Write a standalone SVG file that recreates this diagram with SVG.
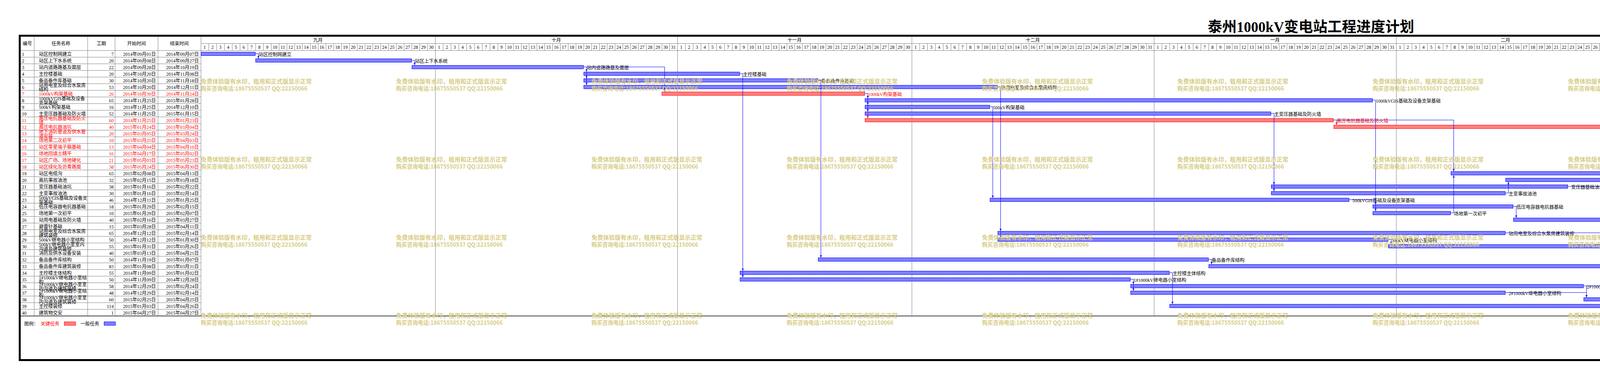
<svg xmlns="http://www.w3.org/2000/svg" xmlns:xlink="http://www.w3.org/1999/xlink" width="6798" height="971" viewBox="0 0 6798 971">
<style>
text{font-family:'Liberation Serif','Noto Sans CJK SC',serif;font-size:12px;fill:#000}
.r{fill:#f00}
.m{text-anchor:middle}
.e{text-anchor:end}
.ttl{font-size:37px;font-weight:bold;text-anchor:middle}
.tbk{font-family:'Liberation Sans','Noto Sans CJK SC',sans-serif;text-anchor:middle}
.wmt{font-family:'Noto Sans CJK SC',sans-serif;font-size:15px;font-weight:bold;fill:#d6cc86}
.gl{stroke:#808080;stroke-width:1;fill:none}
.bk{stroke:#000;stroke-width:1;fill:none}
.dot{stroke:#000;stroke-width:1;stroke-dasharray:1 1;fill:none}
.bb{fill:url(#hb);stroke:#00f;stroke-width:1}
.br{fill:url(#hr);stroke:#f00;stroke-width:1}
.cb{fill:none;stroke:#00f;stroke-width:1;marker-end:url(#ab)}
.cr{fill:none;stroke:#f00;stroke-width:1;marker-end:url(#ar)}
</style>
<defs>
<pattern id="hb" width="2" height="2" patternUnits="userSpaceOnUse"><rect width="2" height="2" fill="#fff"/><rect width="1" height="1" fill="#00f"/><rect x="1" y="1" width="1" height="1" fill="#00f"/></pattern>
<pattern id="hr" width="2" height="2" patternUnits="userSpaceOnUse"><rect width="2" height="2" fill="#fff"/><rect width="1" height="1" fill="#f00"/><rect x="1" y="1" width="1" height="1" fill="#f00"/></pattern>
<pattern id="dg" x="514" y="0" width="20" height="40" patternUnits="userSpaceOnUse"><rect x="0" y="0" width="1" height="40" fill="#808080"/></pattern>
<marker id="ab" viewBox="0 0 6 6" refX="6" refY="3" markerWidth="6" markerHeight="6" markerUnits="userSpaceOnUse" orient="auto"><path d="M0,0.5 L6,3 L0,5.5 z" fill="#00f"/></marker>
<marker id="ar" viewBox="0 0 6 6" refX="6" refY="3" markerWidth="6" markerHeight="6" markerUnits="userSpaceOnUse" orient="auto"><path d="M0,0.5 L6,3 L0,5.5 z" fill="#f00"/></marker>
<g id="wm"><text class="wmt" x="0" y="0" textLength="284" lengthAdjust="spacingAndGlyphs" font-family="Noto Sans CJK SC, sans-serif" font-size="15" font-weight="bold" fill="#d6cc86">免费体验版有水印，租用和正式版显示正常</text><text class="wmt" x="0" y="17.5" textLength="273" lengthAdjust="spacingAndGlyphs" font-family="Noto Sans CJK SC, sans-serif" font-size="15" font-weight="bold" fill="#d6cc86">购买咨询电话:18675550537 QQ:22150066</text></g>
</defs>
<rect width="6798" height="971" fill="#fff"/>
<text class="ttl" x="3356" y="82">泰州1000kV变电站工程进度计划</text>

<g id="grid">
<path class="gl" d="M87.5 94V809.5M224.5 94V809.5M294.5 94V809.5M404.5 94V809.5M514.5 94V809.5"/>
<path class="gl" d="M53 129.5H6694M53 146.5H514M53 163.5H514M53 180.5H514M53 197.5H514M53 214.5H514M53 231.5H514M53 248.5H514M53 265.5H514M53 282.5H514M53 299.5H514M53 316.5H514M53 333.5H514M53 350.5H514M53 367.5H514M53 384.5H514M53 401.5H514M53 418.5H514M53 435.5H514M53 452.5H514M53 469.5H514M53 486.5H514M53 503.5H514M53 520.5H514M53 537.5H514M53 554.5H514M53 571.5H514M53 588.5H514M53 605.5H514M53 622.5H514M53 639.5H514M53 656.5H514M53 673.5H514M53 690.5H514M53 707.5H514M53 724.5H514M53 741.5H514M53 758.5H514M53 775.5H514M53 792.5H514"/>
<path class="gl" d="M514 111.5H6694M1114.5 94V111.5M1734.5 94V111.5M2334.5 94V111.5M2954.5 94V111.5M3574.5 94V111.5M4134.5 94V111.5M4754.5 94V111.5M5354.5 94V111.5M5974.5 94V111.5M6574.5 94V111.5"/>
<rect x="514" y="111.5" width="6180" height="18" fill="url(#dg)"/>
<path class="dot" d="M1114.5 129.5V809.5M1734.5 129.5V809.5M2334.5 129.5V809.5M2954.5 129.5V809.5M3574.5 129.5V809.5M4134.5 129.5V809.5M4754.5 129.5V809.5M5354.5 129.5V809.5M5974.5 129.5V809.5M6574.5 129.5V809.5"/>
<path d="M53 809.5H6694" stroke="#000" stroke-width="1.5"/>
</g>

<g id="header">
<text class="m" x="70" y="116">编号</text>
<text class="m" x="156" y="116">任务名称</text>
<text class="m" x="259.5" y="116">工期</text>
<text class="m" x="349.5" y="116">开始时间</text>
<text class="m" x="459" y="116">结束时间</text>
<text class="m" x="814" y="107">九月</text>
<text class="m" x="1424" y="107">十月</text>
<text class="m" x="2034" y="107">十一月</text>
<text class="m" x="2644" y="107">十二月</text>
<text class="m" x="3264" y="107">一月</text>
<text class="m" x="3854" y="107">二月</text>
<text class="m" x="4444" y="107">三月</text>
<text class="m" x="5054" y="107">四月</text>
<text class="m" x="5664" y="107">五月</text>
<text class="m" x="6274" y="107">六月</text>
<text class="m" x="6634" y="107">七月</text>
<text class="m" y="124.5"><tspan x="524">1</tspan><tspan x="544">2</tspan><tspan x="564">3</tspan><tspan x="584">4</tspan><tspan x="604">5</tspan><tspan x="624">6</tspan><tspan x="644">7</tspan><tspan x="664">8</tspan><tspan x="684">9</tspan><tspan x="704">10</tspan><tspan x="724">11</tspan><tspan x="744">12</tspan><tspan x="764">13</tspan><tspan x="784">14</tspan><tspan x="804">15</tspan><tspan x="824">16</tspan><tspan x="844">17</tspan><tspan x="864">18</tspan><tspan x="884">19</tspan><tspan x="904">20</tspan><tspan x="924">21</tspan><tspan x="944">22</tspan><tspan x="964">23</tspan><tspan x="984">24</tspan><tspan x="1004">25</tspan><tspan x="1024">26</tspan><tspan x="1044">27</tspan><tspan x="1064">28</tspan><tspan x="1084">29</tspan><tspan x="1104">30</tspan></text>
<text class="m" y="124.5"><tspan x="1124">1</tspan><tspan x="1144">2</tspan><tspan x="1164">3</tspan><tspan x="1184">4</tspan><tspan x="1204">5</tspan><tspan x="1224">6</tspan><tspan x="1244">7</tspan><tspan x="1264">8</tspan><tspan x="1284">9</tspan><tspan x="1304">10</tspan><tspan x="1324">11</tspan><tspan x="1344">12</tspan><tspan x="1364">13</tspan><tspan x="1384">14</tspan><tspan x="1404">15</tspan><tspan x="1424">16</tspan><tspan x="1444">17</tspan><tspan x="1464">18</tspan><tspan x="1484">19</tspan><tspan x="1504">20</tspan><tspan x="1524">21</tspan><tspan x="1544">22</tspan><tspan x="1564">23</tspan><tspan x="1584">24</tspan><tspan x="1604">25</tspan><tspan x="1624">26</tspan><tspan x="1644">27</tspan><tspan x="1664">28</tspan><tspan x="1684">29</tspan><tspan x="1704">30</tspan><tspan x="1724">31</tspan></text>
<text class="m" y="124.5"><tspan x="1744">1</tspan><tspan x="1764">2</tspan><tspan x="1784">3</tspan><tspan x="1804">4</tspan><tspan x="1824">5</tspan><tspan x="1844">6</tspan><tspan x="1864">7</tspan><tspan x="1884">8</tspan><tspan x="1904">9</tspan><tspan x="1924">10</tspan><tspan x="1944">11</tspan><tspan x="1964">12</tspan><tspan x="1984">13</tspan><tspan x="2004">14</tspan><tspan x="2024">15</tspan><tspan x="2044">16</tspan><tspan x="2064">17</tspan><tspan x="2084">18</tspan><tspan x="2104">19</tspan><tspan x="2124">20</tspan><tspan x="2144">21</tspan><tspan x="2164">22</tspan><tspan x="2184">23</tspan><tspan x="2204">24</tspan><tspan x="2224">25</tspan><tspan x="2244">26</tspan><tspan x="2264">27</tspan><tspan x="2284">28</tspan><tspan x="2304">29</tspan><tspan x="2324">30</tspan></text>
<text class="m" y="124.5"><tspan x="2344">1</tspan><tspan x="2364">2</tspan><tspan x="2384">3</tspan><tspan x="2404">4</tspan><tspan x="2424">5</tspan><tspan x="2444">6</tspan><tspan x="2464">7</tspan><tspan x="2484">8</tspan><tspan x="2504">9</tspan><tspan x="2524">10</tspan><tspan x="2544">11</tspan><tspan x="2564">12</tspan><tspan x="2584">13</tspan><tspan x="2604">14</tspan><tspan x="2624">15</tspan><tspan x="2644">16</tspan><tspan x="2664">17</tspan><tspan x="2684">18</tspan><tspan x="2704">19</tspan><tspan x="2724">20</tspan><tspan x="2744">21</tspan><tspan x="2764">22</tspan><tspan x="2784">23</tspan><tspan x="2804">24</tspan><tspan x="2824">25</tspan><tspan x="2844">26</tspan><tspan x="2864">27</tspan><tspan x="2884">28</tspan><tspan x="2904">29</tspan><tspan x="2924">30</tspan><tspan x="2944">31</tspan></text>
<text class="m" y="124.5"><tspan x="2964">1</tspan><tspan x="2984">2</tspan><tspan x="3004">3</tspan><tspan x="3024">4</tspan><tspan x="3044">5</tspan><tspan x="3064">6</tspan><tspan x="3084">7</tspan><tspan x="3104">8</tspan><tspan x="3124">9</tspan><tspan x="3144">10</tspan><tspan x="3164">11</tspan><tspan x="3184">12</tspan><tspan x="3204">13</tspan><tspan x="3224">14</tspan><tspan x="3244">15</tspan><tspan x="3264">16</tspan><tspan x="3284">17</tspan><tspan x="3304">18</tspan><tspan x="3324">19</tspan><tspan x="3344">20</tspan><tspan x="3364">21</tspan><tspan x="3384">22</tspan><tspan x="3404">23</tspan><tspan x="3424">24</tspan><tspan x="3444">25</tspan><tspan x="3464">26</tspan><tspan x="3484">27</tspan><tspan x="3504">28</tspan><tspan x="3524">29</tspan><tspan x="3544">30</tspan><tspan x="3564">31</tspan></text>
<text class="m" y="124.5"><tspan x="3584">1</tspan><tspan x="3604">2</tspan><tspan x="3624">3</tspan><tspan x="3644">4</tspan><tspan x="3664">5</tspan><tspan x="3684">6</tspan><tspan x="3704">7</tspan><tspan x="3724">8</tspan><tspan x="3744">9</tspan><tspan x="3764">10</tspan><tspan x="3784">11</tspan><tspan x="3804">12</tspan><tspan x="3824">13</tspan><tspan x="3844">14</tspan><tspan x="3864">15</tspan><tspan x="3884">16</tspan><tspan x="3904">17</tspan><tspan x="3924">18</tspan><tspan x="3944">19</tspan><tspan x="3964">20</tspan><tspan x="3984">21</tspan><tspan x="4004">22</tspan><tspan x="4024">23</tspan><tspan x="4044">24</tspan><tspan x="4064">25</tspan><tspan x="4084">26</tspan><tspan x="4104">27</tspan><tspan x="4124">28</tspan></text>
<text class="m" y="124.5"><tspan x="4144">1</tspan><tspan x="4164">2</tspan><tspan x="4184">3</tspan><tspan x="4204">4</tspan><tspan x="4224">5</tspan><tspan x="4244">6</tspan><tspan x="4264">7</tspan><tspan x="4284">8</tspan><tspan x="4304">9</tspan><tspan x="4324">10</tspan><tspan x="4344">11</tspan><tspan x="4364">12</tspan><tspan x="4384">13</tspan><tspan x="4404">14</tspan><tspan x="4424">15</tspan><tspan x="4444">16</tspan><tspan x="4464">17</tspan><tspan x="4484">18</tspan><tspan x="4504">19</tspan><tspan x="4524">20</tspan><tspan x="4544">21</tspan><tspan x="4564">22</tspan><tspan x="4584">23</tspan><tspan x="4604">24</tspan><tspan x="4624">25</tspan><tspan x="4644">26</tspan><tspan x="4664">27</tspan><tspan x="4684">28</tspan><tspan x="4704">29</tspan><tspan x="4724">30</tspan><tspan x="4744">31</tspan></text>
<text class="m" y="124.5"><tspan x="4764">1</tspan><tspan x="4784">2</tspan><tspan x="4804">3</tspan><tspan x="4824">4</tspan><tspan x="4844">5</tspan><tspan x="4864">6</tspan><tspan x="4884">7</tspan><tspan x="4904">8</tspan><tspan x="4924">9</tspan><tspan x="4944">10</tspan><tspan x="4964">11</tspan><tspan x="4984">12</tspan><tspan x="5004">13</tspan><tspan x="5024">14</tspan><tspan x="5044">15</tspan><tspan x="5064">16</tspan><tspan x="5084">17</tspan><tspan x="5104">18</tspan><tspan x="5124">19</tspan><tspan x="5144">20</tspan><tspan x="5164">21</tspan><tspan x="5184">22</tspan><tspan x="5204">23</tspan><tspan x="5224">24</tspan><tspan x="5244">25</tspan><tspan x="5264">26</tspan><tspan x="5284">27</tspan><tspan x="5304">28</tspan><tspan x="5324">29</tspan><tspan x="5344">30</tspan></text>
<text class="m" y="124.5"><tspan x="5364">1</tspan><tspan x="5384">2</tspan><tspan x="5404">3</tspan><tspan x="5424">4</tspan><tspan x="5444">5</tspan><tspan x="5464">6</tspan><tspan x="5484">7</tspan><tspan x="5504">8</tspan><tspan x="5524">9</tspan><tspan x="5544">10</tspan><tspan x="5564">11</tspan><tspan x="5584">12</tspan><tspan x="5604">13</tspan><tspan x="5624">14</tspan><tspan x="5644">15</tspan><tspan x="5664">16</tspan><tspan x="5684">17</tspan><tspan x="5704">18</tspan><tspan x="5724">19</tspan><tspan x="5744">20</tspan><tspan x="5764">21</tspan><tspan x="5784">22</tspan><tspan x="5804">23</tspan><tspan x="5824">24</tspan><tspan x="5844">25</tspan><tspan x="5864">26</tspan><tspan x="5884">27</tspan><tspan x="5904">28</tspan><tspan x="5924">29</tspan><tspan x="5944">30</tspan><tspan x="5964">31</tspan></text>
<text class="m" y="124.5"><tspan x="5984">1</tspan><tspan x="6004">2</tspan><tspan x="6024">3</tspan><tspan x="6044">4</tspan><tspan x="6064">5</tspan><tspan x="6084">6</tspan><tspan x="6104">7</tspan><tspan x="6124">8</tspan><tspan x="6144">9</tspan><tspan x="6164">10</tspan><tspan x="6184">11</tspan><tspan x="6204">12</tspan><tspan x="6224">13</tspan><tspan x="6244">14</tspan><tspan x="6264">15</tspan><tspan x="6284">16</tspan><tspan x="6304">17</tspan><tspan x="6324">18</tspan><tspan x="6344">19</tspan><tspan x="6364">20</tspan><tspan x="6384">21</tspan><tspan x="6404">22</tspan><tspan x="6424">23</tspan><tspan x="6444">24</tspan><tspan x="6464">25</tspan><tspan x="6484">26</tspan><tspan x="6504">27</tspan><tspan x="6524">28</tspan><tspan x="6544">29</tspan><tspan x="6564">30</tspan></text>
<text class="m" y="124.5"><tspan x="6584">1</tspan><tspan x="6604">2</tspan><tspan x="6624">3</tspan><tspan x="6644">4</tspan><tspan x="6664">5</tspan><tspan x="6684">6</tspan></text>
</g>

<g id="task-1"><text x="56" y="142.5">1</text><text x="99.5" y="142.5">站区控制网建立</text><text class="e" x="291" y="142.5">7</text><text class="e" x="399" y="142.5">2014年09月01日</text><text class="e" x="509" y="142.5">2014年09月07日</text><rect class="bb" x="514.5" y="133.5" width="139" height="9"/><text x="662" y="143.5">站区控制网建立</text></g>
<g id="task-2"><text x="56" y="159.5">2</text><text x="99.5" y="159.5">站区上下水系统</text><text class="e" x="291" y="159.5">20</text><text class="e" x="399" y="159.5">2014年09月08日</text><text class="e" x="509" y="159.5">2014年09月27日</text><rect class="bb" x="654.5" y="150.5" width="399" height="9"/><text x="1062" y="160.5">站区上下水系统</text></g>
<g id="task-3"><text x="56" y="176.5">3</text><text x="99.5" y="176.5">站内道路路基及面层</text><text class="e" x="291" y="176.5">22</text><text class="e" x="399" y="176.5">2014年09月28日</text><text class="e" x="509" y="176.5">2014年10月19日</text><rect class="bb" x="1054.5" y="167.5" width="439" height="9"/><text x="1502" y="177.5">站内道路路基及面层</text></g>
<g id="task-4"><text x="56" y="193.5">4</text><text x="99.5" y="193.5">主控楼基础</text><text class="e" x="291" y="193.5">20</text><text class="e" x="399" y="193.5">2014年10月20日</text><text class="e" x="509" y="193.5">2014年11月08日</text><rect class="bb" x="1494.5" y="184.5" width="399" height="9"/><text x="1902" y="194.5">主控楼基础</text></g>
<g id="task-5"><text x="56" y="210.5">5</text><text x="99.5" y="210.5">备品备件库基础</text><text class="e" x="291" y="210.5">30</text><text class="e" x="399" y="210.5">2014年10月20日</text><text class="e" x="509" y="210.5">2014年11月18日</text><rect class="bb" x="1494.5" y="201.5" width="599" height="9"/><text x="2102" y="211.5">备品备件库基础</text></g>
<g id="task-6"><text x="56" y="227.5">6</text><text x="99.5" y="222.5">站用电室及综合水泵房</text><text x="99.5" y="234.1">结构</text><text class="e" x="291" y="227.5">53</text><text class="e" x="399" y="227.5">2014年10月20日</text><text class="e" x="509" y="227.5">2014年12月11日</text><rect class="bb" x="1494.5" y="218.5" width="1059" height="9"/><text x="2562" y="228.5">站用电室及综合水泵房结构</text></g>
<g id="task-7"><text class="r" x="56" y="244.5">7</text><text class="r" x="99.5" y="244.5">1000kV构架基础</text><text class="e r" x="291" y="244.5">26</text><text class="e r" x="399" y="244.5">2014年10月30日</text><text class="e r" x="509" y="244.5">2014年11月24日</text><rect class="br" x="1694.5" y="235.5" width="519" height="9"/><text class="r" x="2222" y="245.5">1000kV构架基础</text></g>
<g id="task-8"><text x="56" y="261.5">8</text><text x="99.5" y="256.5">1000kVGIS基础及设备</text><text x="99.5" y="268.1">支架基础</text><text class="e" x="291" y="261.5">65</text><text class="e" x="399" y="261.5">2014年11月25日</text><text class="e" x="509" y="261.5">2015年01月28日</text><rect class="bb" x="2214.5" y="252.5" width="1299" height="9"/><text x="3522" y="262.5">1000kVGIS基础及设备支架基础</text></g>
<g id="task-9"><text x="56" y="278.5">9</text><text x="99.5" y="278.5">500kV构架基础</text><text class="e" x="291" y="278.5">16</text><text class="e" x="399" y="278.5">2014年11月25日</text><text class="e" x="509" y="278.5">2014年12月10日</text><rect class="bb" x="2214.5" y="269.5" width="319" height="9"/><text x="2542" y="279.5">500kV构架基础</text></g>
<g id="task-10"><text x="56" y="295.5">10</text><text x="99.5" y="295.5">主变压器基础及防火墙</text><text class="e" x="291" y="295.5">52</text><text class="e" x="399" y="295.5">2014年11月25日</text><text class="e" x="509" y="295.5">2015年01月15日</text><rect class="bb" x="2214.5" y="286.5" width="1039" height="9"/><text x="3262" y="296.5">主变压器基础及防火墙</text></g>
<g id="task-11"><text class="r" x="56" y="312.5">11</text><text class="r" x="99.5" y="307.5">高压电抗器基础及防火</text><text class="r" x="99.5" y="319.1">墙</text><text class="e r" x="291" y="312.5">60</text><text class="e r" x="399" y="312.5">2014年11月25日</text><text class="e r" x="509" y="312.5">2015年01月23日</text><rect class="br" x="2214.5" y="303.5" width="1199" height="9"/><text class="r" x="3422" y="313.5">高压电抗器基础及防火墙</text></g>
<g id="task-12"><text class="r" x="56" y="329.5">12</text><text class="r" x="99.5" y="329.5">高压电抗器油坑</text><text class="e r" x="291" y="329.5">40</text><text class="e r" x="399" y="329.5">2015年01月24日</text><text class="e r" x="509" y="329.5">2015年03月04日</text><rect class="br" x="3414.5" y="320.5" width="799" height="9"/><text class="r" x="4222" y="330.5">高压电抗器油坑</text></g>
<g id="task-13"><text class="r" x="56" y="346.5">13</text><text class="r" x="99.5" y="341.5">地下消防管道及供水管</text><text class="r" x="99.5" y="353.1">道安装</text><text class="e r" x="291" y="346.5">20</text><text class="e r" x="399" y="346.5">2015年03月05日</text><text class="e r" x="509" y="346.5">2015年03月24日</text><rect class="br" x="4214.5" y="337.5" width="399" height="9"/><text class="r" x="4622" y="347.5">地下消防管道及供水管道安装</text></g>
<g id="task-14"><text class="r" x="56" y="363.5">14</text><text class="r" x="99.5" y="363.5">场地第二次初平</text><text class="e r" x="291" y="363.5">10</text><text class="e r" x="399" y="363.5">2015年03月25日</text><text class="e r" x="509" y="363.5">2015年04月03日</text><rect class="br" x="4614.5" y="354.5" width="199" height="9"/><text class="r" x="4822" y="364.5">场地第二次初平</text></g>
<g id="task-15"><text class="r" x="56" y="380.5">15</text><text class="r" x="99.5" y="380.5">站区零星端子箱基础</text><text class="e r" x="291" y="380.5">13</text><text class="e r" x="399" y="380.5">2015年04月04日</text><text class="e r" x="509" y="380.5">2015年04月16日</text><rect class="br" x="4814.5" y="371.5" width="259" height="9"/><text class="r" x="5082" y="381.5">站区零星端子箱基础</text></g>
<g id="task-16"><text class="r" x="56" y="397.5">16</text><text class="r" x="99.5" y="397.5">场地回填土精平</text><text class="e r" x="291" y="397.5">16</text><text class="e r" x="399" y="397.5">2015年04月17日</text><text class="e r" x="509" y="397.5">2015年05月02日</text><rect class="br" x="5074.5" y="388.5" width="319" height="9"/><text class="r" x="5402" y="398.5">场地回填土精平</text></g>
<g id="task-17"><text class="r" x="56" y="414.5">17</text><text class="r" x="99.5" y="414.5">站区广场、场地硬化</text><text class="e r" x="291" y="414.5">21</text><text class="e r" x="399" y="414.5">2015年05月03日</text><text class="e r" x="509" y="414.5">2015年05月23日</text><rect class="br" x="5394.5" y="405.5" width="419" height="9"/><text class="r" x="5822" y="415.5">站区广场、场地硬化</text></g>
<g id="task-18"><text class="r" x="56" y="431.5">18</text><text class="r" x="99.5" y="431.5">站区绿化及沥青路面</text><text class="e r" x="291" y="431.5">38</text><text class="e r" x="399" y="431.5">2015年05月24日</text><text class="e r" x="509" y="431.5">2015年06月30日</text><rect class="br" x="5814.5" y="422.5" width="759" height="9"/><text class="r" x="6582" y="432.5">站区绿化及沥青路面</text></g>
<g id="task-19"><text x="56" y="448.5">19</text><text x="99.5" y="448.5">站区电缆沟</text><text class="e" x="291" y="448.5">65</text><text class="e" x="399" y="448.5">2015年02月08日</text><text class="e" x="509" y="448.5">2015年04月13日</text><rect class="bb" x="3714.5" y="439.5" width="1299" height="9"/><text x="5022" y="449.5">站区电缆沟</text></g>
<g id="task-20"><text x="56" y="465.5">20</text><text x="99.5" y="465.5">高抗事故油池</text><text class="e" x="291" y="465.5">32</text><text class="e" x="399" y="465.5">2015年02月15日</text><text class="e" x="509" y="465.5">2015年03月18日</text><rect class="bb" x="3854.5" y="456.5" width="639" height="9"/><text x="4502" y="466.5">高抗事故油池</text></g>
<g id="task-21"><text x="56" y="482.5">21</text><text x="99.5" y="482.5">变压器基础油坑</text><text class="e" x="291" y="482.5">38</text><text class="e" x="399" y="482.5">2015年01月16日</text><text class="e" x="509" y="482.5">2015年02月22日</text><rect class="bb" x="3254.5" y="473.5" width="759" height="9"/><text x="4022" y="483.5">变压器基础油坑</text></g>
<g id="task-22"><text x="56" y="499.5">22</text><text x="99.5" y="499.5">主变事故油池</text><text class="e" x="291" y="499.5">30</text><text class="e" x="399" y="499.5">2015年01月16日</text><text class="e" x="509" y="499.5">2015年02月14日</text><rect class="bb" x="3254.5" y="490.5" width="599" height="9"/><text x="3862" y="500.5">主变事故油池</text></g>
<g id="task-23"><text x="56" y="516.5">23</text><text x="99.5" y="511.5">500kVGIS基础及设备支</text><text x="99.5" y="523.1">架基础</text><text class="e" x="291" y="516.5">46</text><text class="e" x="399" y="516.5">2014年12月11日</text><text class="e" x="509" y="516.5">2015年01月25日</text><rect class="bb" x="2534.5" y="507.5" width="919" height="9"/><text x="3462" y="517.5">500kVGIS基础及设备支架基础</text></g>
<g id="task-24"><text x="56" y="533.5">24</text><text x="99.5" y="533.5">低压电容器电抗器基础</text><text class="e" x="291" y="533.5">18</text><text class="e" x="399" y="533.5">2015年01月29日</text><text class="e" x="509" y="533.5">2015年02月15日</text><rect class="bb" x="3514.5" y="524.5" width="359" height="9"/><text x="3882" y="534.5">低压电容器电抗器基础</text></g>
<g id="task-25"><text x="56" y="550.5">25</text><text x="99.5" y="550.5">场地第一次初平</text><text class="e" x="291" y="550.5">10</text><text class="e" x="399" y="550.5">2015年01月29日</text><text class="e" x="509" y="550.5">2015年02月07日</text><rect class="bb" x="3514.5" y="541.5" width="199" height="9"/><text x="3722" y="551.5">场地第一次初平</text></g>
<g id="task-26"><text x="56" y="567.5">26</text><text x="99.5" y="567.5">站用电基础及防火墙</text><text class="e" x="291" y="567.5">40</text><text class="e" x="399" y="567.5">2015年02月16日</text><text class="e" x="509" y="567.5">2015年03月27日</text><rect class="bb" x="3874.5" y="558.5" width="799" height="9"/><text x="4682" y="568.5">站用电基础及防火墙</text></g>
<g id="task-27"><text x="56" y="584.5">27</text><text x="99.5" y="584.5">避雷针基础</text><text class="e" x="291" y="584.5">15</text><text class="e" x="399" y="584.5">2015年03月28日</text><text class="e" x="509" y="584.5">2015年04月11日</text><rect class="bb" x="4674.5" y="575.5" width="299" height="9"/><text x="4982" y="585.5">避雷针基础</text></g>
<g id="task-28"><text x="56" y="601.5">28</text><text x="99.5" y="596.5">站用电室及综合水泵房</text><text x="99.5" y="608.1">建筑装修</text><text class="e" x="291" y="601.5">65</text><text class="e" x="399" y="601.5">2014年12月12日</text><text class="e" x="509" y="601.5">2015年02月14日</text><rect class="bb" x="2554.5" y="592.5" width="1299" height="9"/><text x="3862" y="602.5">站用电室及综合水泵房建筑装修</text></g>
<g id="task-29"><text x="56" y="618.5">29</text><text x="99.5" y="618.5">500kV继电器小室结构</text><text class="e" x="291" y="618.5">50</text><text class="e" x="399" y="618.5">2014年12月12日</text><text class="e" x="509" y="618.5">2015年01月30日</text><rect class="bb" x="2554.5" y="609.5" width="999" height="9"/><text x="3562" y="619.5">500kV继电器小室结构</text></g>
<g id="task-30"><text x="56" y="635.5">30</text><text x="99.5" y="630.5">500kV继电器小室室内</text><text x="99.5" y="642.1">沟道及建筑装修</text><text class="e" x="291" y="635.5">55</text><text class="e" x="399" y="635.5">2015年01月31日</text><text class="e" x="509" y="635.5">2015年03月26日</text><rect class="bb" x="3554.5" y="626.5" width="1099" height="9"/><text x="4662" y="636.5">500kV继电器小室室内沟道及建筑装修</text></g>
<g id="task-31"><text x="56" y="652.5">31</text><text x="99.5" y="652.5">消防及供水设备安装</text><text class="e" x="291" y="652.5">40</text><text class="e" x="399" y="652.5">2015年03月13日</text><text class="e" x="509" y="652.5">2015年04月21日</text><rect class="bb" x="4374.5" y="643.5" width="799" height="9"/><text x="5182" y="653.5">消防及供水设备安装</text></g>
<g id="task-32"><text x="56" y="669.5">32</text><text x="99.5" y="669.5">备品备件库结构</text><text class="e" x="291" y="669.5">50</text><text class="e" x="399" y="669.5">2014年11月19日</text><text class="e" x="509" y="669.5">2015年01月07日</text><rect class="bb" x="2094.5" y="660.5" width="999" height="9"/><text x="3102" y="670.5">备品备件库结构</text></g>
<g id="task-33"><text x="56" y="686.5">33</text><text x="99.5" y="686.5">备品备件库建筑装修</text><text class="e" x="291" y="686.5">83</text><text class="e" x="399" y="686.5">2015年01月08日</text><text class="e" x="509" y="686.5">2015年03月31日</text><rect class="bb" x="3094.5" y="677.5" width="1659" height="9"/><text x="4762" y="687.5">备品备件库建筑装修</text></g>
<g id="task-34"><text x="56" y="703.5">34</text><text x="99.5" y="703.5">主控楼主体结构</text><text class="e" x="291" y="703.5">55</text><text class="e" x="399" y="703.5">2014年11月09日</text><text class="e" x="509" y="703.5">2015年01月02日</text><rect class="bb" x="1894.5" y="694.5" width="1099" height="9"/><text x="3002" y="704.5">主控楼主体结构</text></g>
<g id="task-35"><text x="56" y="720.5">35</text><text x="99.5" y="715.5">1#1000kV继电器小室结</text><text x="99.5" y="727.1">构</text><text class="e" x="291" y="720.5">50</text><text class="e" x="399" y="720.5">2014年11月09日</text><text class="e" x="509" y="720.5">2014年12月28日</text><rect class="bb" x="1894.5" y="711.5" width="999" height="9"/><text x="2902" y="721.5">1#1000kV继电器小室结构</text></g>
<g id="task-36"><text x="56" y="737.5">36</text><text x="99.5" y="732.5">2#1000kV继电器小室室</text><text x="99.5" y="744.1">内沟道及建筑装修</text><text class="e" x="291" y="737.5">58</text><text class="e" x="399" y="737.5">2014年12月29日</text><text class="e" x="509" y="737.5">2015年02月24日</text><rect class="bb" x="2894.5" y="728.5" width="1159" height="9"/><text x="4062" y="738.5">2#1000kV继电器小室室内沟道及建筑装修</text></g>
<g id="task-37"><text x="56" y="754.5">37</text><text x="99.5" y="749.5">2#1000kV继电器小室结</text><text x="99.5" y="761.1">构</text><text class="e" x="291" y="754.5">48</text><text class="e" x="399" y="754.5">2014年12月29日</text><text class="e" x="509" y="754.5">2015年02月14日</text><rect class="bb" x="2894.5" y="745.5" width="959" height="9"/><text x="3862" y="755.5">2#1000kV继电器小室结构</text></g>
<g id="task-38"><text x="56" y="771.5">38</text><text x="99.5" y="766.5">2#1000kV继电器小室室</text><text x="99.5" y="778.1">内沟道及建筑装修</text><text class="e" x="291" y="771.5">60</text><text class="e" x="399" y="771.5">2015年02月25日</text><text class="e" x="509" y="771.5">2015年04月25日</text><rect class="bb" x="4054.5" y="762.5" width="1199" height="9"/><text x="5262" y="772.5">2#1000kV继电器小室室内沟道及建筑装修</text></g>
<g id="task-39"><text x="56" y="788.5">39</text><text x="99.5" y="788.5">主控楼装修</text><text class="e" x="291" y="788.5">114</text><text class="e" x="399" y="788.5">2015年01月03日</text><text class="e" x="509" y="788.5">2015年04月26日</text><rect class="bb" x="2994.5" y="779.5" width="2279" height="9"/><text x="5282" y="789.5">主控楼装修</text></g>
<g id="task-40"><text x="56" y="805.5">40</text><text x="99.5" y="805.5">建筑物交安</text><text class="e" x="291" y="805.5">1</text><text class="e" x="399" y="805.5">2015年04月27日</text><text class="e" x="509" y="805.5">2015年04月27日</text><rect class="bb" x="5274.5" y="796.5" width="19" height="9"/><text x="5302" y="806.5">建筑物交安</text></g>

<g id="connectors">
<path class="cr" d="M2214 239.5H2221.5V303"/>
<path class="cr" d="M3414 307.5H3421.5V320"/>
<path class="cr" d="M4214 324.5H4221.5V337"/>
<path class="cr" d="M4614 341.5H4621.5V354"/>
<path class="cr" d="M4814 358.5H4821.5V371"/>
<path class="cr" d="M5074 375.5H5081.5V388"/>
<path class="cr" d="M5394 392.5H5401.5V405"/>
<path class="cr" d="M5814 409.5H5821.5V422"/>
<path class="cb" d="M654 137.5H661.5V150"/>
<path class="cb" d="M1054 154.5H1061.5V167"/>
<path class="cb" d="M1494 171.5H1501.5V184"/>
<path class="cb" d="M1494 171.5H1501.5V201"/>
<path class="cb" d="M1494 171.5H1501.5V218"/>
<path class="cb" d="M1494 171.5H1701.5V235"/>
<path class="cb" d="M1894 188.5H1901.5V694"/>
<path class="cb" d="M1894 188.5H1901.5V711"/>
<path class="cb" d="M2094 205.5H2101.5V660"/>
<path class="cb" d="M2554 222.5H2561.5V592"/>
<path class="cb" d="M2554 222.5H2561.5V609"/>
<path class="cb" d="M2214 239.5H2221.5V252"/>
<path class="cb" d="M2214 239.5H2221.5V269"/>
<path class="cb" d="M2214 239.5H2221.5V286"/>
<path class="cb" d="M3514 256.5H3521.5V524"/>
<path class="cb" d="M3514 256.5H3521.5V541"/>
<path class="cb" d="M3454 511.5H3521.5V524"/>
<path class="cb" d="M2534 273.5H2541.5V507"/>
<path class="cb" d="M3254 290.5H3261.5V473"/>
<path class="cb" d="M3254 290.5H3261.5V490"/>
<path class="cb" d="M3414 307.5H3721.5V439"/>
<path class="cb" d="M5014 443.5H5081.5V398"/>
<path class="cb" d="M4974 579.5H5081.5V398"/>
<path class="cb" d="M4494 460.5H4621.5V364"/>
<path class="cb" d="M4014 477.5H4621.5V364"/>
<path class="cb" d="M3854 494.5H3861.5V466"/>
<path class="cb" d="M3714 545.5H3721.5V449"/>
<path class="cb" d="M3874 528.5H3881.5V558"/>
<path class="cb" d="M4674 562.5H4681.5V575"/>
<path class="cb" d="M3854 596.5H4381.5V643"/>
<path class="cb" d="M3554 613.5H3561.5V626"/>
<path class="cb" d="M4654 630.5H5281.5V796"/>
<path class="cb" d="M5174 647.5H5281.5V796"/>
<path class="cb" d="M4754 681.5H5281.5V796"/>
<path class="cb" d="M4054 732.5H5281.5V796"/>
<path class="cb" d="M5254 766.5H5281.5V796"/>
<path class="cb" d="M5274 783.5H5281.5V796"/>
<path class="cb" d="M3094 664.5H3101.5V677"/>
<path class="cb" d="M2994 698.5H3001.5V779"/>
<path class="cb" d="M2894 715.5H2901.5V728"/>
<path class="cb" d="M2894 715.5H2901.5V745"/>
<path class="cb" d="M3854 749.5H4061.5V762"/>
<path class="cb" d="M4054 732.5H4061.5V762"/>
<path class="cb" d="M5294 800.5H5401.5V415"/>
</g>

<g id="legend">
<text x="62" y="833.5">图例：</text>
<text class="r" x="104" y="833.5">关键任务</text>
<rect class="br" x="164.5" y="824.5" width="29" height="9"/>
<text x="206" y="833.5">一般任务</text>
<rect class="bb" x="266.5" y="824.5" width="29" height="9"/>
</g>

<g id="titleblock">
<path class="bk" d="M6397.5 809.5V920M6397.5 829.5H6694M6397.5 847.5H6694M6397.5 865.5H6694M6397.5 883.5H6694M6397.5 901.5H6694M6457.5 829.5V901.5M6547.5 829.5V919M6607.5 829.5V901.5"/>
<text class="tbk" x="6545.5" y="824">泰州1000kV变电站工程</text>
<text class="tbk" x="6427.5" y="843">编制人</text>
<text class="tbk" x="6577.5" y="843">负责人</text>
<text class="tbk" x="6427.5" y="861">绘图人</text>
<text class="tbk" x="6577.5" y="861">开始时间</text>
<text class="tbk" x="6651" y="861">2014年09月01日</text>
<text class="tbk" x="6427.5" y="879">审核人</text>
<text class="tbk" x="6577.5" y="879">结束时间</text>
<text class="tbk" x="6651" y="879">2015年06月30日</text>
<text class="tbk" x="6427.5" y="897">校对人</text>
<text class="tbk" x="6577.5" y="897">工期</text>
<text class="tbk" x="6651" y="897">303天</text>
<text class="m" x="6621" y="914.5">2014-07-19</text>
</g>

<rect id="frame" x="50.5" y="91.5" width="6646" height="831" fill="none" stroke="#000" stroke-width="5"/>

<g id="watermark">
<use xlink:href="#wm" x="514" y="214"/><use xlink:href="#wm" x="1014" y="214"/><use xlink:href="#wm" x="1514" y="214"/><use xlink:href="#wm" x="2014" y="214"/><use xlink:href="#wm" x="2514" y="214"/><use xlink:href="#wm" x="3014" y="214"/><use xlink:href="#wm" x="3514" y="214"/><use xlink:href="#wm" x="4014" y="214"/><use xlink:href="#wm" x="4514" y="214"/><use xlink:href="#wm" x="5014" y="214"/><use xlink:href="#wm" x="5514" y="214"/><use xlink:href="#wm" x="6014" y="214"/><use xlink:href="#wm" x="6514" y="214"/>
<use xlink:href="#wm" x="514" y="414"/><use xlink:href="#wm" x="1014" y="414"/><use xlink:href="#wm" x="1514" y="414"/><use xlink:href="#wm" x="2014" y="414"/><use xlink:href="#wm" x="2514" y="414"/><use xlink:href="#wm" x="3014" y="414"/><use xlink:href="#wm" x="3514" y="414"/><use xlink:href="#wm" x="4014" y="414"/><use xlink:href="#wm" x="4514" y="414"/><use xlink:href="#wm" x="5014" y="414"/><use xlink:href="#wm" x="5514" y="414"/><use xlink:href="#wm" x="6014" y="414"/><use xlink:href="#wm" x="6514" y="414"/>
<use xlink:href="#wm" x="514" y="614"/><use xlink:href="#wm" x="1014" y="614"/><use xlink:href="#wm" x="1514" y="614"/><use xlink:href="#wm" x="2014" y="614"/><use xlink:href="#wm" x="2514" y="614"/><use xlink:href="#wm" x="3014" y="614"/><use xlink:href="#wm" x="3514" y="614"/><use xlink:href="#wm" x="4014" y="614"/><use xlink:href="#wm" x="4514" y="614"/><use xlink:href="#wm" x="5014" y="614"/><use xlink:href="#wm" x="5514" y="614"/><use xlink:href="#wm" x="6014" y="614"/><use xlink:href="#wm" x="6514" y="614"/>
<use xlink:href="#wm" x="514" y="814"/><use xlink:href="#wm" x="1014" y="814"/><use xlink:href="#wm" x="1514" y="814"/><use xlink:href="#wm" x="2014" y="814"/><use xlink:href="#wm" x="2514" y="814"/><use xlink:href="#wm" x="3014" y="814"/><use xlink:href="#wm" x="3514" y="814"/><use xlink:href="#wm" x="4014" y="814"/><use xlink:href="#wm" x="4514" y="814"/><use xlink:href="#wm" x="5014" y="814"/><use xlink:href="#wm" x="5514" y="814"/><use xlink:href="#wm" x="6014" y="814"/><use xlink:href="#wm" x="6514" y="814"/>
</g>
</svg>
